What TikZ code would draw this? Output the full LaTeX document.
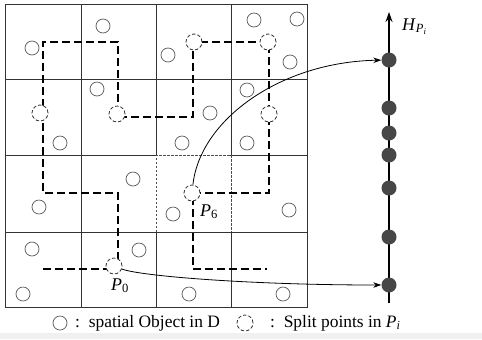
\documentclass[tikz,border=0pt]{standalone}
\usepackage{fontspec}
\setmainfont{Liberation Serif}
\usetikzlibrary{arrows.meta}
\begin{document}
\begin{tikzpicture}[x=1bp,y=-1bp,
  grid/.style={line width=1bp, draw=black!80},
  cellbd/.style={line width=0.8bp, draw=black!70, dash pattern=on 2.5bp off 1.5bp},
  curvepath/.style={line width=2.2bp, dash pattern=on 8bp off 4bp},
  obj/.style={circle, draw=black!65, line width=0.7bp, minimum size=14bp, inner sep=0pt, fill=white},
  split/.style={circle, draw=black!80, line width=0.8bp, dash pattern=on 3.5bp off 2bp, minimum size=16bp, inner sep=0pt, fill=white},
  hpt/.style={circle, fill=black!72, minimum size=15bp, inner sep=0pt},
  link/.style={line width=0.8bp, -{Stealth[length=8bp,width=5.5bp]}},
  lbl/.style={font=\fontsize{18}{20}\selectfont, inner sep=0pt},
  legtext/.style={font=\fontsize{17.5}{19}\selectfont, inner sep=0pt, anchor=west},
  ]
\useasboundingbox (0,0) rectangle (482,339);
\fill[black!6] (0,333) rectangle (482,339);
% grid
\draw[grid] (5,4) rectangle (307,307);
\foreach \x in {81,156,231} \draw[grid] (\x,4) -- (\x,307);
\foreach \y in {79,155,232} \draw[grid] (5,\y) -- (307,\y);
\draw[white, line width=1.6bp] (156,156) -- (156,231) (231,156) -- (231,231) (157,155) -- (230,155);
\draw[cellbd] (156,232) -- (156,155) -- (231,155) -- (231,232);
% curve
\draw[curvepath] (43,269) -- (118,269) -- (118,193) -- (43,193) -- (43,42) -- (118,42) -- (118,117) -- (193,117) -- (193,42) -- (269,42) -- (269,193) -- (193,193) -- (193,269) -- (267,269);
% spatial objects
\foreach \n/\x/\y in {1/32/48, 2/103/26, 3/168/55, 4/254/20, 5/297/19, 6/290/62,
  7/97/89, 8/247/90, 9/210/113, 10/60/143, 11/182/143, 12/247/143,
  13/133/179, 14/39/207, 15/173/214, 16/289/210,
  17/32/249, 18/139/250, 19/23/294, 20/189/294, 21/283/294}
  \node[obj] (o\n) at (\x,\y) {};
% split points
\node[split] (s0) at (114,266) {};
\node[split] (s1) at (40,113) {};
\node[split] (s2) at (117,114) {};
\node[split] (s3) at (194,42) {};
\node[split] (s4) at (268,42) {};
\node[split] (s5) at (269,114) {};
\node[split] (s6) at (192,193) {};
\node[lbl, anchor=base west] (l0) at (111,290) {\textit{P}\textsubscript{0}};
\node[lbl, anchor=base west] (l6) at (200,216) {\textit{P}\textsubscript{6}};
% axis
\coordinate (axb) at (389,303);
\coordinate (axt) at (389,12);
\draw[line width=1.3bp, -{Stealth[length=10bp,width=7bp]}] (axb) -- (axt);
\foreach \n/\y in {1/60, 2/108, 3/133, 4/155, 5/188, 6/237, 7/285}
  \node[hpt] (h\n) at (389,\y) {};
\node[lbl, anchor=base west] (hl) at (402,30) {\textit{H}\textsubscript{\textit{P}\textsubscript{\textit{i}}}};
% links
\draw[link] (s6) .. controls (200,120) and (280,62) .. (h1);
\draw[link] (s0) .. controls (140,276) and (250,285) .. (h7);
% legend
\node[obj] (lo) at (60,323) {};
\node[legtext] (lt1) at (75,323) {:\, spatial Object in D};
\node[split] (ls) at (245,323) {};
\node[legtext] (lt2) at (270,323) {:\, Split points in \textit{P}\textsubscript{\textit{i}}};
\end{tikzpicture}
\end{document}
